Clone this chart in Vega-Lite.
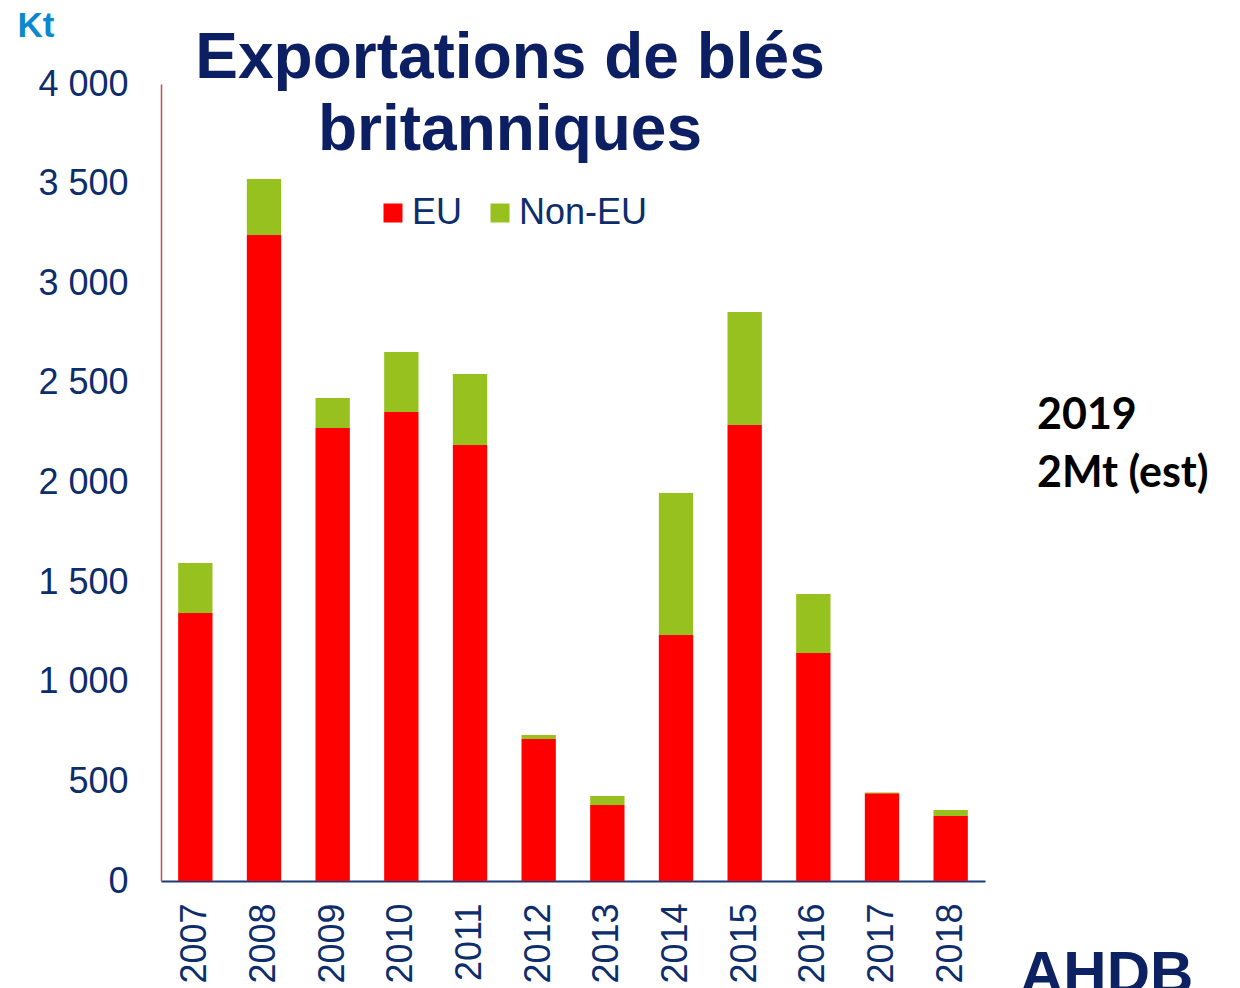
{
  "$schema": "https://vega.github.io/schema/vega-lite/v6.json",
  "width": 824,
  "height": 797,
  "autosize": {"type": "none"},
  "padding": {"left": 161, "top": 84, "right": 255, "bottom": 107},
  "background": "white",
  "title": {
    "text": ["Exportations de blés", "britanniques"],
    "font": "Liberation Sans",
    "fontSize": 64,
    "fontWeight": "bold",
    "color": "#0D1F63",
    "lineHeight": 72,
    "anchor": "middle",
    "frame": "group",
    "dx": -63,
    "dy": 155,
    "offset": 0
  },
  "config": {"view": {"stroke": null}, "font": "Liberation Sans"},
  "data": {
    "values": [
      {"year": "2007", "region": "EU", "kt": 1345},
      {"year": "2007", "region": "Non-EU", "kt": 251},
      {"year": "2008", "region": "EU", "kt": 3242},
      {"year": "2008", "region": "Non-EU", "kt": 281},
      {"year": "2009", "region": "EU", "kt": 2273},
      {"year": "2009", "region": "Non-EU", "kt": 151},
      {"year": "2010", "region": "EU", "kt": 2354},
      {"year": "2010", "region": "Non-EU", "kt": 301},
      {"year": "2011", "region": "EU", "kt": 2188},
      {"year": "2011", "region": "Non-EU", "kt": 357},
      {"year": "2012", "region": "EU", "kt": 713},
      {"year": "2012", "region": "Non-EU", "kt": 20},
      {"year": "2013", "region": "EU", "kt": 381},
      {"year": "2013", "region": "Non-EU", "kt": 46},
      {"year": "2014", "region": "EU", "kt": 1235},
      {"year": "2014", "region": "Non-EU", "kt": 712},
      {"year": "2015", "region": "EU", "kt": 2289},
      {"year": "2015", "region": "Non-EU", "kt": 567},
      {"year": "2016", "region": "EU", "kt": 1144},
      {"year": "2016", "region": "Non-EU", "kt": 296},
      {"year": "2017", "region": "EU", "kt": 440},
      {"year": "2017", "region": "Non-EU", "kt": 4},
      {"year": "2018", "region": "EU", "kt": 326},
      {"year": "2018", "region": "Non-EU", "kt": 30}
    ]
  },
  "layer": [
    {
      "mark": {"type": "bar"},
      "encoding": {
        "x": {
          "field": "year",
          "type": "ordinal",
          "scale": {"paddingInner": 0.5, "paddingOuter": 0.25},
          "axis": {
            "title": null,
            "labelAngle": -90,
            "labelFontSize": 36,
            "labelColor": "#0D2D6C",
            "labelFont": "Liberation Sans",
            "labelPadding": 22,
            "ticks": false,
            "domainColor": "#1F3A78",
            "domainWidth": 2
          }
        },
        "y": {
          "field": "kt",
          "type": "quantitative",
          "stack": "zero",
          "scale": {"domain": [0, 4000], "nice": false},
          "axis": {
            "values": [0, 500, 1000, 1500, 2000, 2500, 3000, 3500, 4000],
            "labelExpr": "replace(format(datum.value, ','), ',', ' ')",
            "labelFontSize": 36,
            "labelColor": "#0D2D6C",
            "labelFont": "Liberation Sans",
            "labelPadding": 33,
            "ticks": false,
            "grid": false,
            "domainColor": "#C0504D",
            "domainWidth": 1.5,
            "title": "Kt",
            "titleAngle": 0,
            "titleAlign": "left",
            "titleBaseline": "alphabetic",
            "titleX": -144,
            "titleY": -48,
            "titleFontSize": 35,
            "titleFontWeight": "bold",
            "titleColor": "#0B88D0",
            "titleFont": "Liberation Sans"
          }
        },
        "color": {
          "field": "region",
          "type": "nominal",
          "scale": {"domain": ["EU", "Non-EU"], "range": ["#FF0000", "#97C11F"]},
          "legend": {
            "title": null,
            "orient": "none",
            "legendX": 214,
            "legendY": 111,
            "direction": "horizontal",
            "symbolType": "square",
            "symbolSize": 361,
            "symbolStrokeWidth": 0,
            "labelFontSize": 36,
            "labelFont": "Liberation Sans",
            "labelColor": "#0D2D6C",
            "labelOffset": 1,
            "columnPadding": 19
          }
        },
        "order": {"field": "region", "sort": "ascending"}
      }
    },
    {
      "data": {"values": [{"label": ["2019", "2Mt (est)"]}]},
      "mark": {
        "type": "text",
        "font": "Lato",
        "fontWeight": "bold",
        "fontSize": 43,
        "color": "#000000",
        "align": "left",
        "baseline": "alphabetic",
        "lineHeight": 58
      },
      "encoding": {
        "text": {"field": "label"},
        "x": {"value": 876},
        "y": {"value": 345}
      }
    },
    {
      "data": {"values": [{"label": "AHDB"}]},
      "mark": {
        "type": "text",
        "font": "Liberation Sans",
        "fontWeight": "bold",
        "fontSize": 60,
        "color": "#0D2262",
        "align": "left",
        "baseline": "alphabetic"
      },
      "encoding": {
        "text": {"field": "label"},
        "x": {"value": 859},
        "y": {"value": 909}
      }
    }
  ]
}
